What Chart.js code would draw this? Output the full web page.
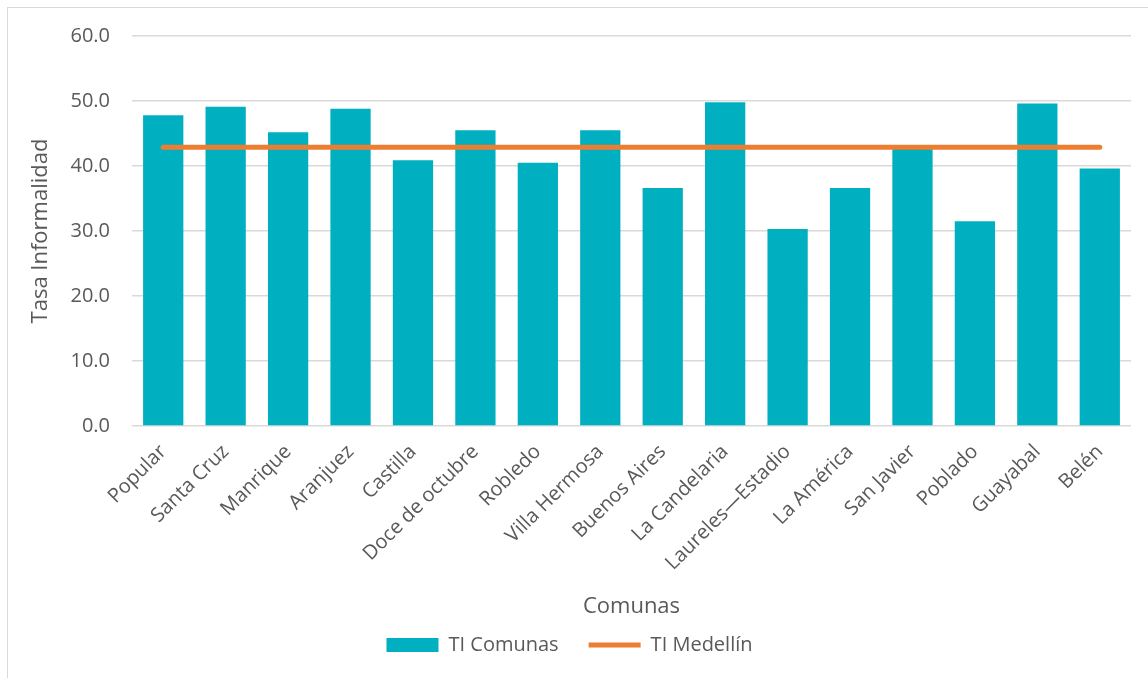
<!DOCTYPE html>
<html>
<head>
<meta charset="utf-8">
<script src="https://cdn.jsdelivr.net/npm/chart.js@4/dist/chart.umd.min.js"></script>
<style>
  body { margin: 0; background: #fff; }
  .wrap { position: relative; width: 1148px; height: 678px; overflow: hidden; }
  .marco { position: absolute; left: 7px; top: 7px; width: 1160px; height: 700px; border: 1px solid #d9d9d9; pointer-events: none; }
</style>
</head>
<body>
<div class="wrap">
  <canvas id="graficoComunas" width="1148" height="678"></canvas>
  <div class="marco"></div>
</div>
<script>
// comunas
const comunas = ['Popular', 'Santa Cruz', 'Manrique', 'Aranjuez', 'Castilla', 'Doce de octubre', 'Robledo',
  'Villa Hermosa', 'Buenos Aires', 'La Candelaria', 'Laureles\u2014Estadio', 'La América', 'San Javier',
  'Poblado', 'Guayabal', 'Belén'];

// tasa de informalidad por comuna
const tiComunas = [47.8, 49.1, 45.2, 48.8, 40.9, 45.5, 40.5, 45.5, 36.6, 49.8, 30.3, 36.6, 43.2, 31.5, 49.6, 39.6];

// tasa de Medellín (misma para todas)
const tiMedellin = [42.9, 42.9, 42.9, 42.9, 42.9, 42.9, 42.9, 42.9, 42.9, 42.9, 42.9, 42.9, 42.9, 42.9, 42.9, 42.9];

// ticks del eje y
const ticksY = [0, 10, 20, 30, 40, 50, 60];

const gris = '#595959';
const fuente = "'Open Sans', sans-serif";

let ctx = document.getElementById('graficoComunas').getContext('2d');

window.grafico = new Chart(ctx, {
  type: 'bar',
  data: {
    labels: comunas,
    datasets: [{
      type: 'bar',
      label: 'TI Comunas',
      data: tiComunas,
      backgroundColor: '#00B0C0',
      borderWidth: 0,
      categoryPercentage: 1,
      barPercentage: 0.645,
      pointStyle: 'rect',
      order: 1
    }, {
      type: 'line',
      label: 'TI Medellín',
      data: tiMedellin,
      borderColor: '#ED7D31',
      backgroundColor: '#ED7D31',
      borderWidth: 5,
      borderCapStyle: 'round',
      pointRadius: 0,
      pointStyle: 'line',
      order: 0
    }]
  },
  options: {
    responsive: false,
    animation: false,
    layout: { padding: { left: 8, right: 17, top: 36, bottom: 13 } },
    plugins: {
      tooltip: { enabled: false },
      legend: {
        position: 'bottom',
        labels: {
          usePointStyle: true,
          pointStyleWidth: 52,
          boxHeight: 14,
          padding: 30,
          color: gris,
          font: { family: fuente, size: 20 },
          sort: (a, b) => a.datasetIndex - b.datasetIndex
        }
      }
    },
    scales: {
      x: {
        grid: { display: false },
        border: { display: false },
        ticks: {
          color: gris,
          font: { family: fuente, size: 20 },
          maxRotation: 45,
          minRotation: 45,
          autoSkip: false,
          padding: 6
        },
        title: {
          display: true,
          text: 'Comunas',
          color: gris,
          font: { family: fuente, size: 22 },
          padding: { top: 4, bottom: -15 }
        },
        afterFit: s => { s.height = 179; }
      },
      y: {
        min: ticksY[0],
        max: ticksY[ticksY.length - 1],
        afterBuildTicks: s => { s.ticks = ticksY.map(v => ({ value: v })); },
        grid: { color: '#d9d9d9', lineWidth: 1.5, drawTicks: false },
        border: { display: false },
        ticks: {
          color: gris,
          font: { family: fuente, size: 20 },
          padding: 22,
          callback: v => v.toFixed(1)
        },
        title: {
          display: true,
          text: 'Tasa Informalidad',
          color: gris,
          font: { family: fuente, size: 22 },
          padding: { top: 20, bottom: 4 }
        },
        afterFit: s => { s.width = 124; }
      }
    }
  }
});
</script>
</body>
</html>
